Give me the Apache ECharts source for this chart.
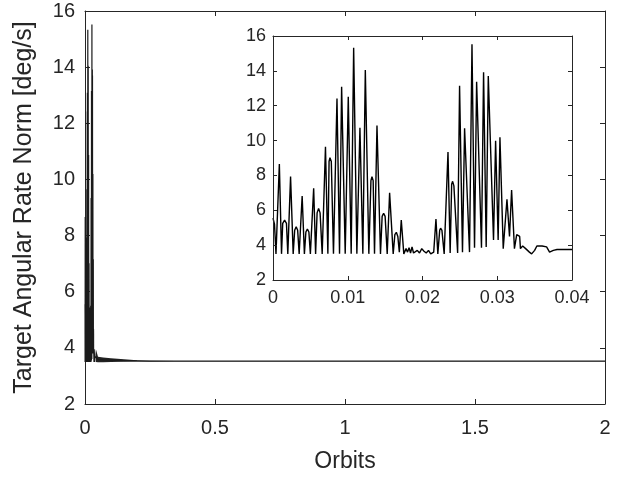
<!DOCTYPE html>
<html><head><meta charset="utf-8">
<script src="https://cdn.jsdelivr.net/npm/echarts@6/dist/echarts.min.js"></script>
<style>html,body{margin:0;padding:0;background:#fff}#c{width:622px;height:478px}</style>
</head><body><div id="c"></div>
<script>
// Burst region (orbits, deg/s)
var innerOrbits = [0.0000,0.0002,0.0004,0.00085,0.00114,0.0013,0.00155,0.0018,0.00198,0.00235,0.0027,0.0029,0.0031,0.0033,0.0035,0.0039,0.0042,0.0044,0.0046,0.0048,0.0050,0.00544,0.0057,0.0059,0.0061,0.0063,0.00658,0.00702,0.00734,0.0075,0.00762,0.0078,0.00809,0.00856,0.0089,0.00918,0.00966,0.01007,0.01046,0.01079,0.01122,0.01163,0.01202,0.01235,0.01282,0.0131,0.01324,0.0134,0.01358,0.01391,0.01438,0.0146,0.0148,0.015,0.01528,0.0156,0.01608,0.0163,0.0165,0.0167,0.0169,0.01716,0.0175,0.0178,0.0180,0.0182,0.0184,0.0186,0.0188,0.0190,0.0193,0.0196,0.0199,0.0202,0.0205,0.0208,0.0211,0.0215,0.0218,0.02205,0.0223,0.02242,0.0226,0.0229,0.02341,0.0237,0.0239,0.02403,0.0242,0.0247,0.02496,0.02535,0.02563,0.02629,0.02662,0.02696,0.02724,0.02789,0.02817,0.02852,0.0288,0.0295,0.02978,0.03012,0.03036,0.0308,0.0313,0.03164,0.03192,0.0323,0.0326,0.03278,0.033,0.0331,0.0334,0.0338,0.0343,0.0346,0.0350,0.0353,0.0360,0.0366,0.0370,0.0372,0.0375,0.0380,0.0400];
var innerRate   = [5.55,5.2,3.5,8.66,3.5,5.25,5.44,5.25,3.5,7.93,3.5,4.85,5.06,4.85,3.5,6.82,3.5,4.75,4.93,4.75,3.5,7.26,3.5,5.85,6.11,5.85,3.5,9.65,3.5,8.8,9.02,8.8,3.5,12.42,3.5,13.09,3.5,12.52,3.5,15.33,3.5,10.74,3.5,14.05,3.5,7.7,7.93,7.7,3.5,10.87,3.5,5.65,5.83,5.65,3.5,7.01,3.5,4.6,4.74,4.5,3.6,5.44,3.5,3.8,3.6,3.85,3.55,3.9,3.55,3.6,3.7,3.55,3.8,3.65,3.55,3.7,3.5,3.6,5.5,3.5,4.85,4.97,4.85,3.5,9.34,3.55,7.5,7.66,7.4,3.55,13.15,3.6,10.7,3.6,15.52,3.85,13.38,3.85,13.92,3.9,13.7,4.3,9.99,4.3,10.19,3.8,6.63,4.5,7.16,3.8,4.6,4.68,4.5,3.8,3.95,3.8,3.6,3.5,3.7,3.95,3.95,3.9,3.6,3.5,3.7,3.75,3.75];
// Settling tail (orbits, deg/s): envelope of the fast residual oscillation
var tailOrbits = [0.04,0.042,0.05,0.07,0.1,0.15,0.2,0.25,0.35,0.5,1.0,2.0];
var tailUpper  = [3.75,3.95,3.68,3.66,3.63,3.59,3.56,3.545,3.535,3.53,3.53,3.53];
var tailLower  = [3.75,3.50,3.49,3.49,3.50,3.505,3.51,3.515,3.52,3.52,3.52,3.52];

var innerData = innerOrbits.map(function(t,i){return [t, innerRate[i]];});
var mainLine = innerData.concat(tailOrbits.map(function(t,i){return [t, (tailLower[i]+tailUpper[i])/2];}));
var bandData = tailOrbits.map(function(t,i){return [t, tailLower[i], tailUpper[i]];});

var C = '#262626';
var FF = "'Liberation Sans', Arial, sans-serif";
function xAx(grid, pos, min, max, itv, fs, showLabel, margin, tl, z, name) {
  return {type:'value', gridIndex:grid, position:pos, min:min, max:max, interval:itv, z:z,
    axisLine:{show:true, onZero:false, lineStyle:{color:C, width:1}},
    axisTick:{show:true, inside:true, length:tl, lineStyle:{color:C}},
    splitLine:{show:false},
    axisLabel:{show:showLabel, color:C, fontSize:fs, fontFamily:FF, margin:margin,
      formatter:function(v){return String(+v.toFixed(4));}},
    name:name||'', nameLocation:'middle', nameGap:46,
    nameTextStyle:{color:C, fontSize:23, fontFamily:FF}};
}
function yAx(grid, pos, fs, showLabel, margin, tl, z, name) {
  return {type:'value', gridIndex:grid, position:pos, min:2, max:16, interval:2, z:z,
    axisLine:{show:true, onZero:false, lineStyle:{color:C, width:1}},
    axisTick:{show:true, inside:true, length:tl, lineStyle:{color:C}},
    splitLine:{show:false},
    axisLabel:{show:showLabel, color:C, fontSize:fs, fontFamily:FF, margin:margin},
    name:name||'', nameLocation:'middle', nameGap:48,
    nameTextStyle:{color:C, fontSize:25, fontFamily:FF}};
}
var chart = echarts.init(document.getElementById('c'), null, {renderer:'canvas'});
chart.setOption({
  animation:false,
  backgroundColor:'#fff',
  grid:[
    {left:85, top:11, width:520, height:394, show:false},
    {left:273, top:36, width:299, height:244, show:true, backgroundColor:'#fff', borderWidth:0}
  ],
  xAxis:[
    xAx(0,'bottom',0,2,0.5,20,true,14,5,3,'Orbits'),
    xAx(0,'top',0,2,0.5,20,false,8,5,3),
    xAx(1,'bottom',0,0.04,0.01,18,true,9,4,10),
    xAx(1,'top',0,0.04,0.01,18,false,8,4,10)
  ],
  yAxis:[
    yAx(0,'left',20,true,10,5,3,'Target Angular Rate Norm [deg/s]'),
    yAx(0,'right',20,false,8,5,3),
    yAx(1,'left',18,true,7,4,10),
    yAx(1,'right',18,false,8,4,10)
  ],
  series:[
    {type:'custom', xAxisIndex:0, yAxisIndex:0, data:bandData, silent:true, z:2,
      renderItem:function(params, api){
        if (params.dataIndex !== 0) return null;
        var up = [], lo = [];
        for (var i = 0; i < bandData.length; i++) {
          up.push(api.coord([bandData[i][0], bandData[i][2]]));
          lo.push(api.coord([bandData[i][0], bandData[i][1]]));
        }
        return {type:'polygon', shape:{points:up.concat(lo.reverse())},
          style:{fill:'#222', stroke:null}};
      }},
    {type:'line', xAxisIndex:0, yAxisIndex:0, data:mainLine, showSymbol:false, z:3,
      lineStyle:{color:'#1a1a1a', width:1.2}, silent:true},
    {type:'line', xAxisIndex:2, yAxisIndex:2, data:innerData, showSymbol:false, z:6,
      lineStyle:{color:'#000', width:1.4}, silent:true}
  ]
});
</script></body></html>
